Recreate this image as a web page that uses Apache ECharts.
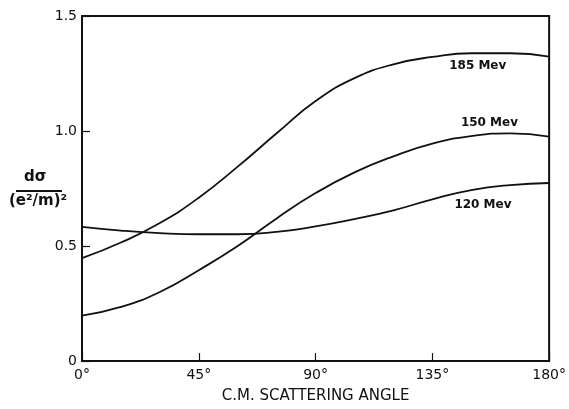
<!DOCTYPE html>
<html><head><meta charset="utf-8">
<script src="https://cdn.jsdelivr.net/npm/echarts@6/dist/echarts.min.js"></script>
<style>html,body{margin:0;padding:0;background:#fff}#c{width:569px;height:409px}</style>
</head><body><div id="c"></div>
<script>
const angles = [0,15,30,45,60,75,90,105,120,135,150,165,180];
const mev185 = [0.447,0.515,0.60,0.71,0.845,0.99,1.13,1.23,1.29,1.322,1.338,1.338,1.323];
const mev150 = [0.197,0.235,0.30,0.395,0.50,0.62,0.73,0.82,0.89,0.945,0.978,0.99,0.976];
const mev120 = [0.583,0.567,0.556,0.551,0.551,0.561,0.585,0.617,0.655,0.703,0.743,0.765,0.774];
const yTickLabels = {0:'0',0.5:'0.5',1:'1.0',1.5:'1.5'};
const curveLabels = [
  {name:'185 Mev', at:[152.5,1.282]},
  {name:'150 Mev', at:[157,1.035]},
  {name:'120 Mev', at:[154.5,0.68]}
];
const font = 'DejaVu Sans, sans-serif';
const chart = echarts.init(document.getElementById('c'));
const mk = (name, vals, lbl) => ({
  type:'line', name, smooth:0.5, symbol:'none',
  data: angles.map((a,i)=>[a, vals[i]]),
  lineStyle:{color:'#111', width:1.8},
  markPoint: {
    symbol:'circle', symbolSize:0,
    label:{show:true, formatter:lbl.name, color:'#111', fontSize:12, fontFamily:font, fontWeight:'bold'},
    data:[{coord:lbl.at}]
  }
});
chart.setOption({
  animation:false,
  grid:{left:82, right:19, top:16, bottom:43, show:true, borderColor:'#111', borderWidth:2},
  xAxis:{type:'value', min:0, max:180, interval:45,
    axisLine:{show:true, lineStyle:{color:'#111', width:2}},
    axisTick:{show:true, inside:true, length:8, lineStyle:{color:'#111', width:1.2}},
    splitLine:{show:false},
    axisLabel:{color:'#111', fontSize:14, fontFamily:font, margin:7, formatter:v=>v+'°'},
    name:'C.M. SCATTERING ANGLE', nameLocation:'middle', nameGap:28,
    nameTextStyle:{color:'#111', fontSize:15, fontFamily:font}
  },
  yAxis:{type:'value', min:0, max:1.5, interval:0.5,
    axisLine:{show:true, lineStyle:{color:'#111', width:2}},
    axisTick:{show:true, inside:true, length:8, lineStyle:{color:'#111', width:1.2}},
    splitLine:{show:false},
    axisLabel:{color:'#111', fontSize:14, fontFamily:font, margin:5, formatter:v=>yTickLabels[v] ?? ''}
  },
  graphic:[
    {type:'text', left:24, top:170, style:{text:'dσ', font:'bold 15px '+font, fill:'#111'}},
    {type:'line', shape:{x1:16, y1:191, x2:62, y2:191}, style:{stroke:'#111', lineWidth:2}},
    {type:'text', left:9, top:194, style:{text:'(e²/m)²', font:'bold 15px '+font, fill:'#111'}}
  ],
  series:[
    mk('185 Mev', mev185, curveLabels[0]),
    mk('150 Mev', mev150, curveLabels[1]),
    mk('120 Mev', mev120, curveLabels[2])
  ]
});
</script></body></html>
